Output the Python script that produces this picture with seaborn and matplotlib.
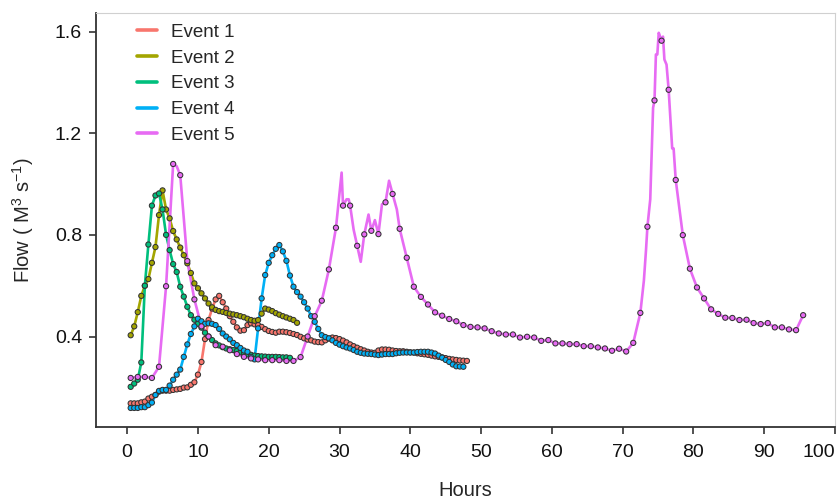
import numpy as np
import pandas as pd
import seaborn as sns
import matplotlib.pyplot as plt

# flow readings, every 0.5 h for events 1-4, every hour for event 5
event_names = ['Event 1', 'Event 2', 'Event 3', 'Event 4', 'Event 5']
event_colors = ['#F8766D', '#A3A500', '#00BF7D', '#00B0F6', '#E76BF3']

e1_flow = [0.137, 0.137, 0.137, 0.141, 0.144, 0.156, 0.163, 0.170, 0.183, 0.187,
           0.187, 0.187, 0.190, 0.192, 0.194, 0.199, 0.200, 0.210, 0.220, 0.250,
           0.300, 0.390, 0.465, 0.510, 0.546, 0.560, 0.535, 0.510, 0.480, 0.458,
           0.436, 0.423, 0.425, 0.445, 0.452, 0.448, 0.445, 0.438, 0.429, 0.422,
           0.418, 0.415, 0.419, 0.419, 0.417, 0.414, 0.410, 0.406, 0.399, 0.393,
           0.388, 0.385, 0.380, 0.378, 0.377, 0.385, 0.392, 0.396, 0.394, 0.390,
           0.384, 0.377, 0.369, 0.362, 0.356, 0.350, 0.345, 0.340, 0.337, 0.336,
           0.345, 0.349, 0.349, 0.348, 0.345, 0.343, 0.342, 0.342, 0.340, 0.338,
           0.337, 0.334, 0.332, 0.330, 0.328, 0.325, 0.322, 0.320, 0.318, 0.315,
           0.312, 0.310, 0.308, 0.306, 0.305, 0.304]

e2_flow = [0.405, 0.440, 0.496, 0.560, 0.600, 0.626, 0.690, 0.752, 0.878, 0.975,
           0.900, 0.865, 0.815, 0.782, 0.750, 0.720, 0.688, 0.650, 0.609, 0.590,
           0.570, 0.550, 0.530, 0.515, 0.505, 0.500, 0.497, 0.493, 0.490, 0.487,
           0.484, 0.480, 0.476, 0.470, 0.465, 0.462, 0.465, 0.490, 0.510, 0.506,
           0.500, 0.492, 0.486, 0.480, 0.475, 0.470, 0.465, 0.454]

e3_flow = [0.202, 0.215, 0.230, 0.298, 0.600, 0.762, 0.915, 0.955, 0.963, 0.900,
           0.800, 0.740, 0.685, 0.654, 0.596, 0.557, 0.517, 0.484, 0.466, 0.450,
           0.435, 0.415, 0.400, 0.386, 0.373, 0.365, 0.358, 0.353, 0.350, 0.347,
           0.343, 0.338, 0.333, 0.330, 0.328, 0.325, 0.323, 0.322, 0.321, 0.320,
           0.320, 0.320, 0.319, 0.318, 0.318, 0.316]

e4_flow = [0.119, 0.119, 0.119, 0.122, 0.122, 0.130, 0.140, 0.170, 0.186, 0.190,
           0.190, 0.207, 0.230, 0.250, 0.270, 0.320, 0.369, 0.410, 0.440, 0.470,
           0.460, 0.450, 0.452, 0.450, 0.445, 0.430, 0.412, 0.400, 0.389, 0.375,
           0.366, 0.355, 0.345, 0.340, 0.320, 0.310, 0.432, 0.550, 0.642, 0.690,
           0.720, 0.745, 0.760, 0.735, 0.698, 0.640, 0.596, 0.575, 0.557, 0.535,
           0.510, 0.480, 0.458, 0.430, 0.405, 0.398, 0.393, 0.385, 0.375, 0.368,
           0.362, 0.357, 0.353, 0.347, 0.340, 0.336, 0.333, 0.332, 0.331, 0.329,
           0.327, 0.329, 0.331, 0.331, 0.331, 0.334, 0.336, 0.337, 0.337, 0.337,
           0.337, 0.339, 0.340, 0.340, 0.340, 0.337, 0.333, 0.325, 0.317, 0.308,
           0.300, 0.290, 0.283, 0.282, 0.281]

e5_flow = [0.237, 0.241, 0.241, 0.237, 0.281, 0.598, 1.079, 1.035, 0.697, 0.546,
           0.440, 0.400, 0.366, 0.360, 0.346, 0.331, 0.320, 0.314, 0.310, 0.307,
           0.307, 0.307, 0.304, 0.304, 0.319, 0.400, 0.480, 0.541, 0.664, 0.828,
           0.915, 0.915, 0.757, 0.802, 0.816, 0.803, 0.928, 0.961, 0.824, 0.710,
           0.596, 0.556, 0.526, 0.495, 0.482, 0.469, 0.460, 0.445, 0.438, 0.436,
           0.432, 0.421, 0.412, 0.408, 0.408, 0.396, 0.399, 0.396, 0.383, 0.386,
           0.373, 0.373, 0.370, 0.370, 0.362, 0.362, 0.357, 0.353, 0.344, 0.352,
           0.341, 0.375, 0.493, 0.832, 1.329, 1.564, 1.371, 1.016, 0.799, 0.667,
           0.593, 0.550, 0.507, 0.489, 0.474, 0.473, 0.465, 0.466, 0.453, 0.449,
           0.453, 0.436, 0.436, 0.428, 0.425, 0.484]

# event 5 line has sub-hourly detail between the hourly markers
e5_detail_hours = [7.0, 30.3, 31.0, 31.3, 32.0, 33.0, 34.1, 35.0, 36.0, 37.0, 38.1,
                   73.0, 73.3, 73.9, 74.3, 74.7, 74.9, 75.1, 75.3, 75.7, 75.9,
                   76.2, 77.0, 77.2]
e5_detail_flow = [1.070, 1.045, 0.940, 0.940, 0.820, 0.694, 0.880, 0.858, 0.920, 1.013, 0.900,
                  0.620, 0.740, 0.940, 1.300, 1.510, 1.510, 1.595, 1.580, 1.580, 1.490,
                  1.470, 1.140, 1.140]

x_ticks = [0, 10, 20, 30, 40, 50, 60, 70, 80, 90, 100]
y_ticks = [0.4, 0.8, 1.2, 1.6]


def build_frames():
    series = [(e1_flow, 0.5), (e2_flow, 0.5), (e3_flow, 0.5), (e4_flow, 0.5), (e5_flow, 1.0)]
    parts = []
    for name, (flow, step) in zip(event_names, series):
        hours = 0.5 + step * np.arange(len(flow))
        parts.append(pd.DataFrame({'event': name, 'hours': hours, 'flow': flow}))
    points = pd.concat(parts, ignore_index=True)
    detail = pd.DataFrame({'event': 'Event 5', 'hours': e5_detail_hours,
                           'flow': e5_detail_flow})
    lines = pd.concat([points, detail], ignore_index=True)
    return points, lines


def main():
    sns.set_theme(style='white')
    plt.rcParams['font.family'] = ['Liberation Sans', 'DejaVu Sans']
    plt.rcParams['mathtext.default'] = 'regular'

    points, lines = build_frames()
    palette = dict(zip(event_names, event_colors))

    fig = plt.figure(figsize=(8.39, 4.99), dpi=100)
    ax = fig.add_axes([96 / 839, 1 - 427 / 499, 739 / 839, 414 / 499])

    sns.lineplot(data=lines, x='hours', y='flow', hue='event', palette=palette,
                 estimator=None, sort=True, lw=1.9, ax=ax)
    sns.scatterplot(data=points, x='hours', y='flow', hue='event', palette=palette,
                    s=14, edgecolor='#333333', linewidth=0.75, legend=False,
                    zorder=3, ax=ax)

    ax.set_xlim(-4.4, 100)
    ax.set_ylim(0.044, 1.673)
    ax.set_xticks(x_ticks)
    ax.set_yticks(y_ticks)
    ax.set_yticklabels([f'{v:.1f}' for v in y_ticks])

    for side in ['top', 'right']:
        ax.spines[side].set_color('#d0d0d0')
        ax.spines[side].set_linewidth(0.8)
    for side in ['left', 'bottom']:
        ax.spines[side].set_color('#333333')
        ax.spines[side].set_linewidth(1.3)
    ax.tick_params(axis='both', which='both', direction='out', length=5, width=1.2,
                   color='#333333', labelsize=14, labelcolor='#111111', pad=5,
                   left=True, bottom=True)
    ax.tick_params(axis='x', pad=7)
    # last label sits at the figure edge; right-align it so it stays readable
    ax.get_xticklabels()[-1].set_horizontalalignment('right')

    ax.set_xlabel('Hours', fontsize=14.5)
    ax.set_ylabel(r'Flow ( M$^3$ s$^{-1}$)', fontsize=14.5)
    ax.xaxis.set_label_coords(0.5, -0.13)
    ax.yaxis.set_label_coords(-0.081, 0.5)

    leg = ax.legend(loc='upper left', bbox_to_anchor=(0.055, 0.974), frameon=False,
                    fontsize=13.5, handlelength=1.07, handletextpad=0.75,
                    labelspacing=0.46, borderpad=0, borderaxespad=0)
    for h in leg.legend_handles:
        h.set_linewidth(2.6)

    fig.savefig('out.png', dpi=100)


if __name__ == '__main__':
    main()
